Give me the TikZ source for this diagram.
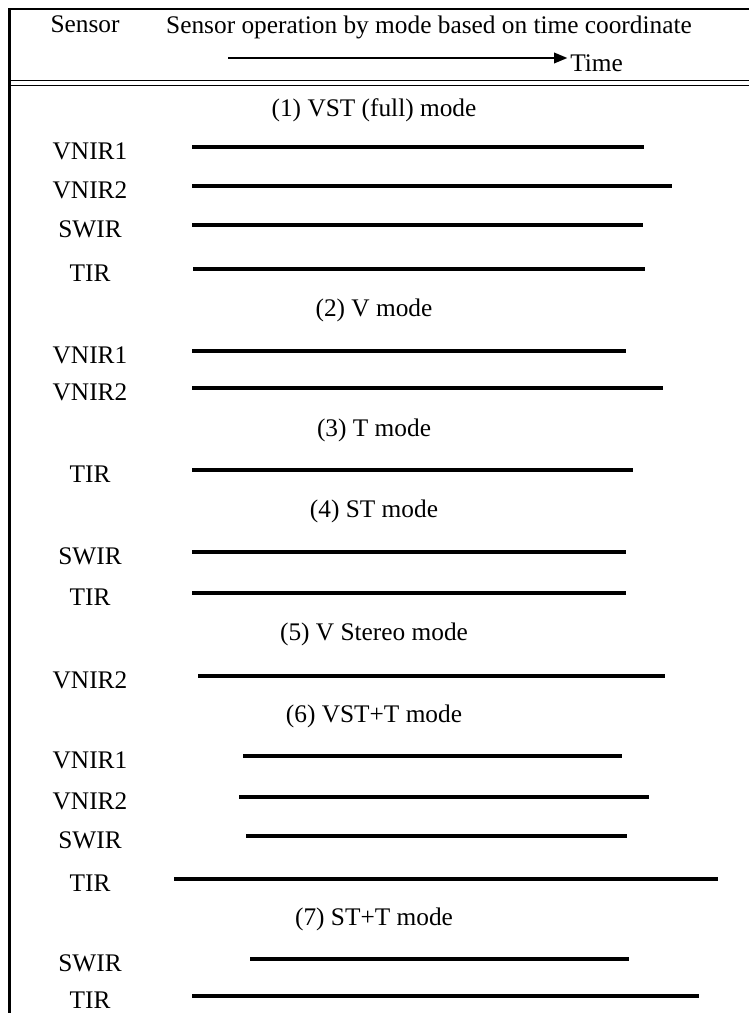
\documentclass[tikz,border=0pt]{standalone}
\usepackage{fontspec}
\setmainfont{Liberation Serif}
\usetikzlibrary{arrows.meta}

\begin{document}
\begin{tikzpicture}[x=0.75pt, y=-0.75pt, font=\fontsize{19}{23}\selectfont,
		bar/.style={line width=3.4pt},
		frame/.style={line width=1.8pt},
		rule/.style={line width=1.2pt},
		modetitle/.style={anchor=center},
		label/.style={anchor=center}]
	\useasboundingbox (0,0) rectangle (749,1013);

	% frame and header rules
	\draw [frame] (9.5,1013) -- (9.5,9) -- (749,9);
	\draw [rule] (9.5,80.5) -- (749,80.5) (9.5,85.5) -- (749,85.5);

	% header
	\node (hsensor) [anchor=base] at (85,33) {Sensor};
	\node (htitle) [anchor=base] at (429,34) {Sensor operation by mode based on time coordinate};
	\node (htime) [anchor=base west, inner sep=0pt] at (570,72) {Time};
	\coordinate (tstart) at (228,58);
	\draw [-{Triangle[length=10pt, width=8pt]}, line width=1.3pt]
		(tstart) -- ([xshift=-2pt]htime.west |- tstart);

	% modes
	\node (m1) [modetitle] at (374,110) {(1) VST (full) mode};
	\node (m2) [modetitle] at (374,310) {(2) V mode};
	\node (m3) [modetitle] at (374,430) {(3) T mode};
	\node (m4) [modetitle] at (374,511) {(4) ST mode};
	\node (m5) [modetitle] at (374,634) {(5) V Stereo mode};
	\node (m6) [modetitle] at (374,716) {(6) VST+T mode};
	\node (m7) [modetitle] at (374,919) {(7) ST+T mode};

	% sensors and operating time
	\foreach \lab/\y/\xa/\xb [count=\i] in {
			VNIR1/147/192/644, VNIR2/186/192/672, SWIR/225/192/643, TIR/269/193/645,
			VNIR1/351/192/626, VNIR2/388/192/663,
			TIR/470/192/633,
			SWIR/552/192/626, TIR/593/192/626,
			VNIR2/676/198/665,
			VNIR1/756/243/622, VNIR2/797/239/649, SWIR/836/246/627, TIR/879/174/718,
			SWIR/959/250/629, TIR/996/192/699}{
		\node (s\i) [label] at (90,\y+4) {\lab};
		\draw [bar] (\xa,\y) -- (\xb,\y);
	}
\end{tikzpicture}
\end{document}
